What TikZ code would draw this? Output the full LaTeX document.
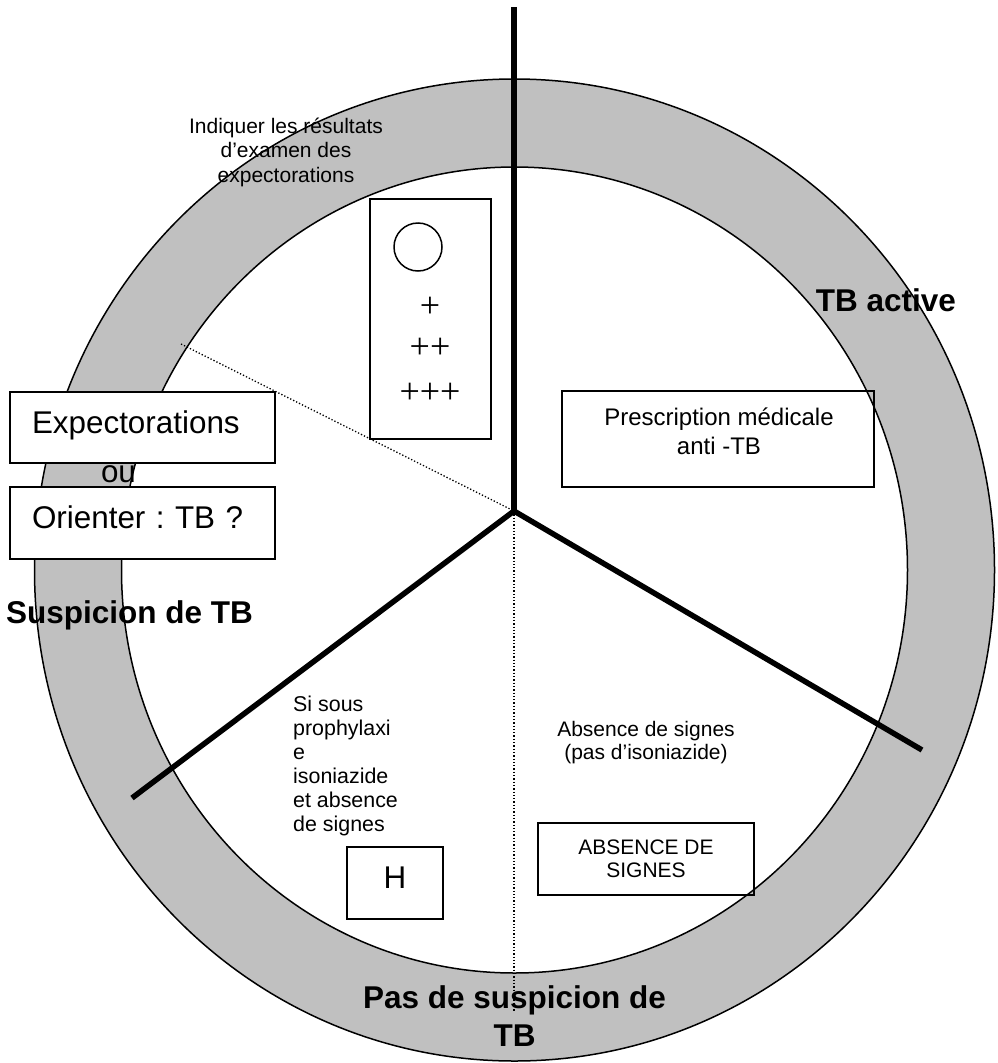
\documentclass[tikz,border=0pt]{standalone}
\usepackage{fontspec}
\setmainfont{Liberation Sans}
\newfontfamily\plusfont{Liberation Serif}
\definecolor{ringgray}{RGB}{192,192,192}
\frenchspacing
\begin{document}
\begin{tikzpicture}[x=1pt,y=-1pt,
  outline/.style={line width=1.5pt},
  box/.style={draw, line width=1.5pt, rectangle, inner sep=0pt},
  wbox/.style={box, fill=white},
  spoke/.style={line width=5.5pt, line join=miter},
  dotline/.style={line width=1.3pt, dash pattern=on 1.3pt off 2pt},
  big/.style={font=\fontsize{31.4}{38}\selectfont},
  bigb/.style={font=\fontsize{31.5}{38.3}\selectfont\bfseries},
  small/.style={font=\fontsize{21}{24.5}\selectfont},
  plus/.style={font=\plusfont\fontsize{36}{36}\selectfont, inner sep=0pt},
  txt/.style={inner sep=0pt}
]
\useasboundingbox (0,0) rectangle (997,1063);
% ring
\coordinate (c) at (514.5,570);
\fill[ringgray, even odd rule] (c) ellipse [x radius=480pt, y radius=491pt]
                               (c) ellipse [x radius=393pt, y radius=403pt];
\draw[outline] (c) ellipse [x radius=480pt, y radius=491pt];
\draw[outline] (c) ellipse [x radius=393pt, y radius=403pt];

% "ou" behind the two boxes
\node[big, txt, anchor=base] (ou) at (118.5,482) {ou};
\node[wbox, big, text width=221pt, align=left, inner xsep=22pt, minimum height=71pt,
      text height=22.5pt, text depth=11pt] (expec) at (142.5,427.5) {Expectorations};
\node[wbox, big, text width=221pt, align=left, inner xsep=22pt, minimum height=72pt,
      text height=22.5pt, text depth=11pt] (orient) at (142.5,523) {Orienter : TB ?};

% sputum result box
\node[wbox, minimum width=121pt, minimum height=240pt] (sputum) at (430.5,319) {};
\node[draw, circle, outline, minimum size=48pt, inner sep=0pt] (neg) at (418,247) {};
\node[plus] (p1) at (430,307) {+};
\node[plus] (p2) at (430,348) {++};
\node[plus] (p3) at (430,393) {+++};

% prescription box
\node[box, minimum width=312pt, minimum height=96pt] (presc) at (718,439) {};
\node[txt, font=\fontsize{24}{29}\selectfont, align=center, anchor=north] (presct)
      at (719,407.5) {Prescription médicale\\anti -TB};

% dotted lines and spokes
\coordinate (hub) at (514,511);
\coordinate (dstart) at (181,344);
\coordinate (dend) at (514,1012);
\coordinate (top) at (514,7);
\coordinate (rend) at (922,750);
\coordinate (lend) at (132,798);
\draw[dotline] (dstart) -- (hub);
\draw[dotline] (hub) -- (dend);
\draw[spoke] (lend) -- (hub) -- (rend);
\draw[spoke] (hub) -- (top);

% labels
\node[bigb, txt] (tbact) at (886,300) {TB active};
\node[bigb, txt, anchor=base west] (susp) at (6,623.5) {Suspicion de TB};
\node[bigb, txt, align=center, anchor=north] (pasde) at (514.5,985) {Pas de suspicion de\\TB};
\node[small, txt, align=center, anchor=north] (indiq) at (286,117.5)
      {Indiquer les résultats\\d’examen des\\expectorations};
\node[txt, font=\fontsize{21.4}{24}\selectfont, align=left, anchor=north west] (sisous)
      at (293,696) {Si sous\\prophylaxi\\e\\isoniazide\\et absence\\de signes};
\node[txt, font=\fontsize{21}{23}\selectfont, align=center, anchor=north] (absig)
      at (646,721) {Absence de signes\\(pas d’isoniazide)};
\node[box, font=\fontsize{21}{22.5}\selectfont, align=center, minimum width=216pt,
      minimum height=72pt] (absbox) at (646,859) {ABSENCE DE\\SIGNES};
\node[box, big, minimum width=96pt, minimum height=72pt, text depth=10pt] (hbox)
      at (395,883) {H};
\end{tikzpicture}
\end{document}
